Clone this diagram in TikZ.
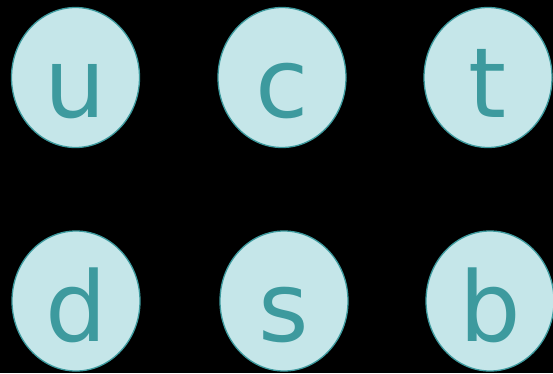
\documentclass[tikz,border=0pt]{standalone}
\usepackage{fontspec}
\setmainfont{DejaVu Sans}
\usetikzlibrary{shapes.geometric}
\definecolor{cfill}{HTML}{C5E6E9}
\definecolor{cline}{HTML}{3D9A9E}
\begin{document}
\begin{tikzpicture}[x=1pt,y=-1pt,
  quark/.style={draw=cline,fill=cfill,line width=1.3pt,ellipse,inner sep=0pt,minimum width=128pt,minimum height=140pt},
  lbl/.style={anchor=base,text=cline,font=\fontsize{97}{97}\selectfont,inner sep=0pt}]
\useasboundingbox[fill=black] (0,0) rectangle (553,373);
\node[quark] (u) at (75.5,77.5) {};
\node[quark] (c) at (282,77.5) {};
\node[quark] (t) at (488,77.5) {};
\node[quark] (d) at (76,301) {};
\node[quark] (s) at (284,301) {};
\node[quark] (b) at (490,301) {};
\node[lbl] (ul) at (75,117) {u};
\node[lbl] (cl) at (282,117) {c};
\node[lbl] (tl) at (488,117) {t};
\node[lbl] (dl) at (76,341) {d};
\node[lbl] (sl) at (284,341) {s};
\node[lbl] (bl) at (490,341) {b};
\end{tikzpicture}
\end{document}
